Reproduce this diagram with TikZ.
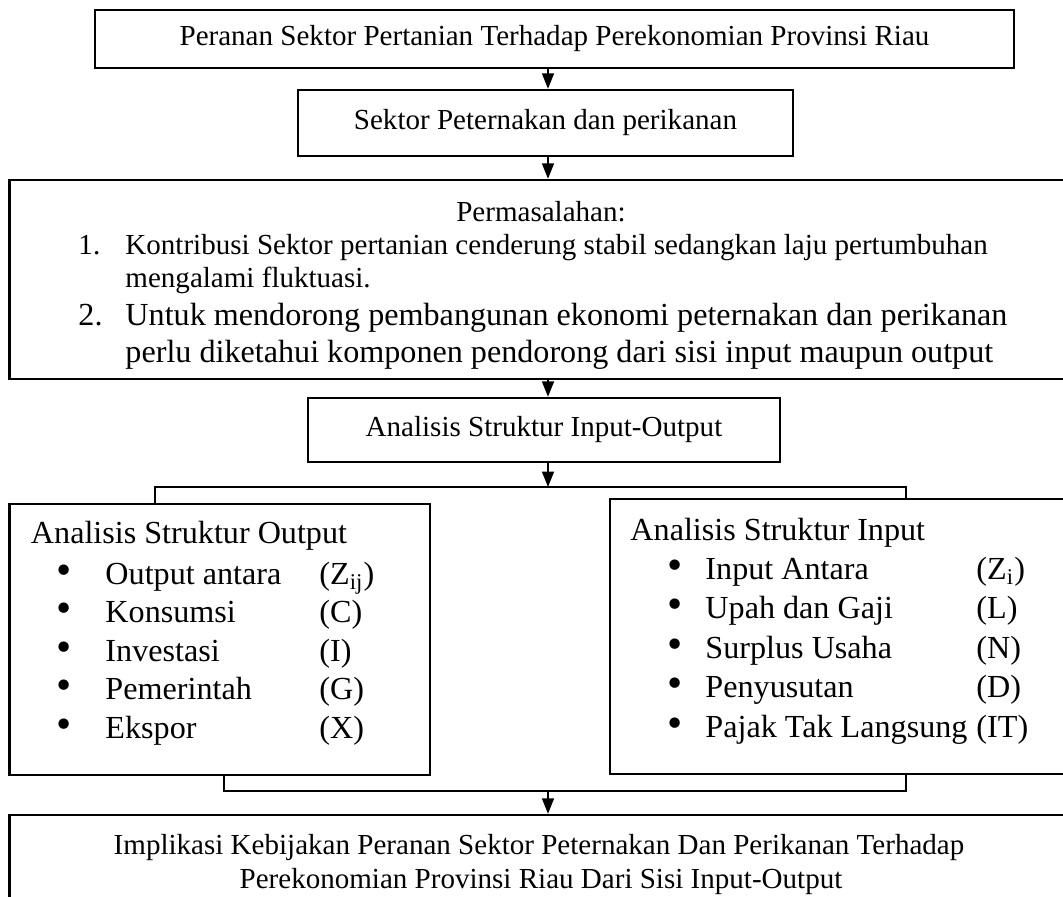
\documentclass[tikz,border=0pt]{standalone}
\usepackage{fontspec}
\setmainfont{Liberation Serif}
\usetikzlibrary{arrows.meta,positioning}
\newdimen\px \px=0.42pt
\newcommand{\titik}{\scalebox{1.35}{\textbullet}}
\tikzset{
  kotak/.style={draw, line width=1pt, inner sep=0pt, align=center},
  teks/.style={inner sep=0pt, anchor=base west},
  butir/.style={inner sep=0pt, anchor=base},
  garis/.style={line width=0.8pt},
  besar/.style={font=\fontsize{13.5}{16}\selectfont}
}

\begin{document}
\begin{tikzpicture}[x=0.42pt, y=-0.42pt, font=\fontsize{12.2}{14}\selectfont,
    >={Triangle[length=6.5pt,width=5pt]}]
        \useasboundingbox (0,0) rectangle (1063,897);
        \clip (0,0) rectangle (1063,897);
        \coordinate (sumbu) at (548,0);

        % peranan (top)
        \node[kotak, minimum width=919\px, minimum height=58\px] (peranan) at (554.5,39)
            {Peranan Sektor Pertanian Terhadap Perekonomian Provinsi Riau};

        % sektor
        \node[kotak, minimum width=495\px, minimum height=66\px] (sektor) at (545.5,123)
            {Sektor Peternakan dan perikanan};

        % permasalahan (wide box)
        \node[kotak, minimum width=1090\px, minimum height=199\px] (masalah) at (554.5,279.5) {};
        \node[butir] (judulmasalah) at (541,221) {Permasalahan:};
        \node[teks] (no1) at (78,254) {1.};
        \node[teks] (m1a) at (125,254) {Kontribusi Sektor pertanian cenderung stabil sedangkan laju pertumbuhan};
        \node[teks] (m1b) at (125,287) {mengalami fluktuasi.};
        \node[teks, besar] (no2) at (78,325) {2.};
        \node[teks, besar] (m2a) at (125,325) {Untuk mendorong pembangunan ekonomi peternakan dan perikanan};
        \node[teks, besar] (m2b) at (125,362) {perlu diketahui komponen pendorong dari sisi input maupun output};

        % analisis input-output
        \node[kotak, minimum width=472\px, minimum height=64\px] (analisis) at (544,430)
            {Analisis Struktur Input-Output};

        % struktur output (left)
        \node[kotak, minimum width=420.5\px, minimum height=271\px] (strout) at (219.75,639.5) {};
        \node[teks, besar] (judulout) at (30.5,543) {Analisis Struktur Output};
        \node[butir, besar] (bo1) at (64,584) {\titik};
        \node[teks, besar] (o1) at (105,584) {Output antara};
        \node[teks, besar] (ko1) at (319,584) {(Z\textsubscript{ij})};
        \node[butir, besar] (bo2) at (64,622.5) {\titik};
        \node[teks, besar] (o2) at (105,622.5) {Konsumsi};
        \node[teks, besar] (ko2) at (319,622.5) {(C)};
        \node[butir, besar] (bo3) at (64,661) {\titik};
        \node[teks, besar] (o3) at (105,661) {Investasi};
        \node[teks, besar] (ko3) at (319,661) {(I)};
        \node[butir, besar] (bo4) at (64,699.5) {\titik};
        \node[teks, besar] (o4) at (105,699.5) {Pemerintah};
        \node[teks, besar] (ko4) at (319,699.5) {(G)};
        \node[butir, besar] (bo5) at (64,738) {\titik};
        \node[teks, besar] (o5) at (105,738) {Ekspor};
        \node[teks, besar] (ko5) at (319,738) {(X)};

        % struktur input (right)
        \node[kotak, minimum width=500\px, minimum height=275\px] (strin) at (860,636.5) {};
        \node[teks, besar] (judulin) at (630,540) {Analisis Struktur Input};
        \node[butir, besar] (bi1) at (675,579) {\titik};
        \node[teks, besar] (i1) at (705,579) {Input Antara};
        \node[teks, besar] (ki1) at (976,579) {(Z\textsubscript{i})};
        \node[butir, besar] (bi2) at (675,618.5) {\titik};
        \node[teks, besar] (i2) at (705,618.5) {Upah dan Gaji};
        \node[teks, besar] (ki2) at (976,618.5) {(L)};
        \node[butir, besar] (bi3) at (675,658) {\titik};
        \node[teks, besar] (i3) at (705,658) {Surplus Usaha};
        \node[teks, besar] (ki3) at (976,658) {(N)};
        \node[butir, besar] (bi4) at (675,697.5) {\titik};
        \node[teks, besar] (i4) at (705,697.5) {Penyusutan};
        \node[teks, besar] (ki4) at (976,697.5) {(D)};
        \node[butir, besar] (bi5) at (675,737) {\titik};
        \node[teks, besar] (i5) at (705,737) {Pajak Tak Langsung};
        \node[teks, besar] (ki5) at (976,737) {(IT)};

        % implikasi (bottom)
        \node[kotak, minimum width=1090.5\px, minimum height=185\px] (implikasi) at (554.75,907.5) {};
        \node[butir] (impl1) at (539,854) {Implikasi Kebijakan Peranan Sektor Peternakan Dan Perikanan Terhadap};
        \node[butir] (impl2) at (541,888) {Perekonomian Provinsi Riau Dari Sisi Input-Output};

        % arrows down the middle
        \draw[garis, ->] (peranan.south -| sumbu) -- (sektor.north -| sumbu);
        \draw[garis, ->] (sektor.south -| sumbu) -- (masalah.north -| sumbu);
        \draw[garis, ->] (masalah.south -| sumbu) -- (analisis.north -| sumbu);

        % split to output and input
        \coordinate (kiri1) at (155,487);
        \coordinate (kanan1) at (906,487);
        \draw[garis, ->] (analisis.south -| sumbu) -- (kiri1 -| sumbu);
        \draw[garis] (strout.north -| kiri1) |- (kanan1) -- (strin.north -| kanan1);

        % join into implikasi
        \coordinate (kiri2) at (224,791);
        \coordinate (kanan2) at (906,791);
        \draw[garis] (strout.south -| kiri2) |- (kanan2) -- (strin.south -| kanan2);
        \draw[garis, ->] (kiri2 -| sumbu) -- (implikasi.north -| sumbu);

    \end{tikzpicture}
\end{document}
